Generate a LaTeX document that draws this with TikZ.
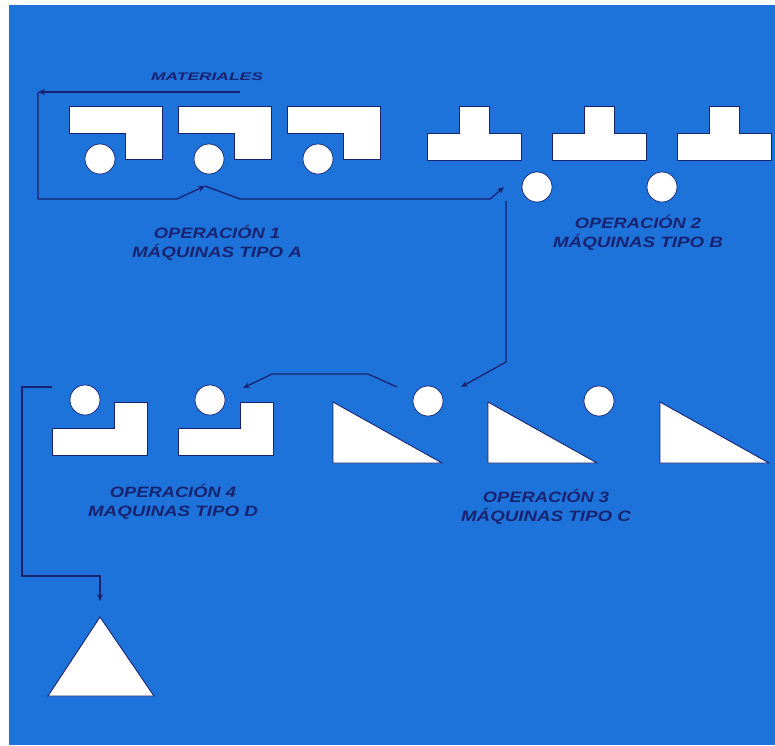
\documentclass[tikz,border=0pt]{standalone}
\usepackage{graphicx}
\usepackage{fontspec}
\setmainfont{Liberation Sans}
\usetikzlibrary{arrows.meta}

\definecolor{bgblue}{RGB}{30,115,218}
\definecolor{ink}{RGB}{24,34,112}

\newcommand{\widetext}[2]{\scalebox{#1}[1]{#2}}

\tikzset{
  piece/.style={fill=white, draw=ink, line width=0.9pt, line join=miter},
  disc/.style={circle, fill=white, draw=ink, line width=0.7pt, minimum size=30pt, inner sep=0pt},
  flow/.style={draw=ink, line width=1.3pt},
  tip/.style={-{Stealth[length=7pt,width=6pt]}},
  oplabel/.style={text=ink, font=\bfseries\itshape\fontsize{15}{19}\selectfont, align=center, inner sep=0pt},
}

\begin{document}
\begin{tikzpicture}[x=1pt, y=-1pt]
  \useasboundingbox (0,0) rectangle (775,745);
  \fill[white] (0,0) rectangle (775,745);
  \fill[bgblue] (9,5) rectangle (775,745);

  % ---------- Operation 1: machines type A ----------
  \foreach \x in {69,178,287}{
    \draw[piece] (\x,106) -- (\x+93,106) -- (\x+93,159) -- (\x+56,159)
                 -- (\x+56,133) -- (\x,133) -- cycle;
  }
  \node[disc] (a1) at (100,159) {};
  \node[disc] (a2) at (209,159) {};
  \node[disc] (a3) at (318,159) {};

  % ---------- Operation 2: machines type B ----------
  \foreach \x in {427,552,677}{
    \draw[piece] (\x,160) -- (\x,133) -- (\x+32,133) -- (\x+32,106)
                 -- (\x+62,106) -- (\x+62,133) -- (\x+94,133) -- (\x+94,160) -- cycle;
  }
  \node[disc] (b1) at (537,187) {};
  \node[disc] (b2) at (662,187) {};

  % ---------- Operation 3: machines type C ----------
  \foreach \x in {333,488,660}{
    \draw[piece] (\x,402) -- (\x,463) -- (\x+109,463) -- cycle;
  }
  \node[disc] (c1) at (428,401) {};
  \node[disc] (c2) at (599,401) {};

  % ---------- Operation 4: machines type D ----------
  \foreach \x in {52,178}{
    \draw[piece] (\x,428) -- (\x+62,428) -- (\x+62,402) -- (\x+95,402)
                 -- (\x+95,455) -- (\x,455) -- cycle;
  }
  \node[disc] (d1) at (85,400) {};
  \node[disc] (d2) at (210,400) {};

  % ---------- finished goods store ----------
  \draw[piece] (100,617) -- (154,696) -- (48,696) -- cycle;
  \coordinate (store) at (100,601);

  % ---------- labels ----------
  \node[text=ink, font=\bfseries\itshape\fontsize{11}{13}\selectfont, inner sep=0pt] (mat) at (207,77)
    {\widetext{1.58}{MATERIALES}};
  \node[oplabel] (op1) at (217,243)
    {\widetext{1.22}{OPERACIÓN 1}\\\widetext{1.25}{MÁQUINAS TIPO A}};
  \node[oplabel] (op2) at (638,233)
    {\widetext{1.22}{OPERACIÓN 2}\\\widetext{1.25}{MÁQUINAS TIPO B}};
  \node[oplabel] (op3) at (546,507)
    {\widetext{1.22}{OPERACIÓN 3}\\\widetext{1.25}{MÁQUINAS TIPO C}};
  \node[oplabel] (op4) at (173,502)
    {\widetext{1.22}{OPERACIÓN 4}\\\widetext{1.25}{MAQUINAS TIPO D}};

  % ---------- material flow ----------
  \coordinate (m0) at (240,92);
  \coordinate (m1) at (38,92);
  \coordinate (m2) at (38,199);
  \coordinate (m3) at (177,199);
  \coordinate (inA) at (205,186);
  \coordinate (m4) at (240,199);
  \coordinate (m5) at (490,199);
  \coordinate (inB) at (504,187);
  \coordinate (v0) at (506,201);
  \coordinate (v1) at (506,362);
  \coordinate (inC) at (461,387);
  \coordinate (w0) at (397,387);
  \coordinate (w1) at (368,374);
  \coordinate (w2) at (272,374);
  \coordinate (inD) at (243,388);
  \coordinate (k0) at (52,387);
  \coordinate (k1) at (22,387);
  \coordinate (k2) at (22,576);
  \coordinate (k3) at (100,576);

  \draw[flow, tip] (m0) -- (m1);
  \draw[flow, tip] (m1) -- (m2) -- (m3) -- (inA);
  \draw[flow, tip] (inA) -- (m4) -- (m5) -- (inB);
  \draw[flow, tip] (v0) -- (v1) -- (inC);
  \draw[flow, tip] (w0) -- (w1) -- (w2) -- (inD);
  \draw[flow, tip] (k0) -- (k1) -- (k2) -- (k3) -- (store);
\end{tikzpicture}
\end{document}
